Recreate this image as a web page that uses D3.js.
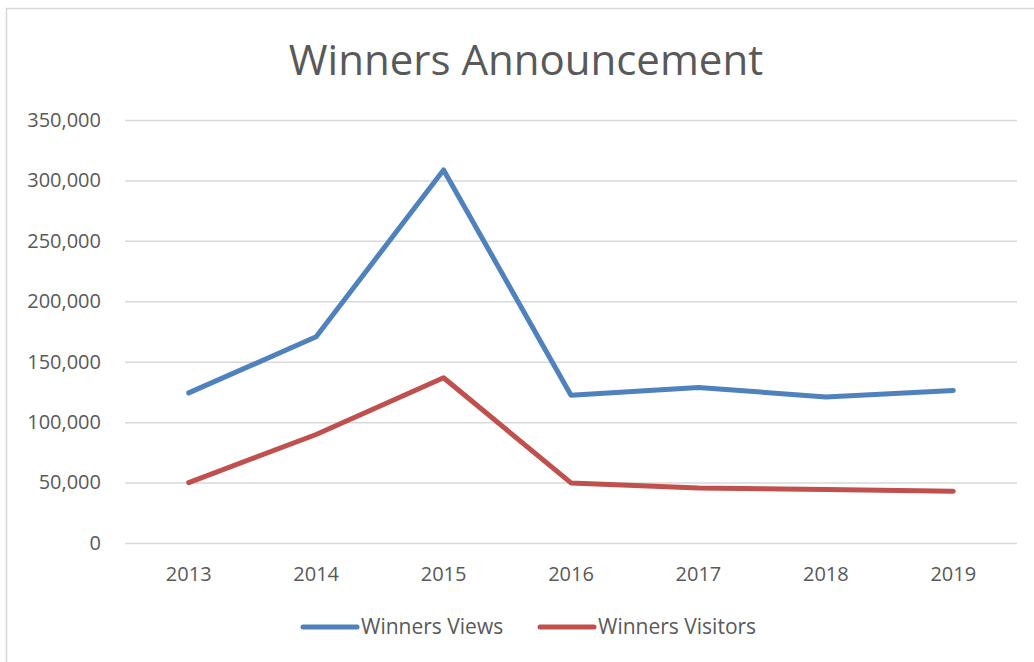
<!DOCTYPE html>
<meta charset="utf-8">
<script src="https://d3js.org/d3.v7.min.js"></script>
<style>
  body { margin: 0; background: #fff; }
  text { font-family: "Open Sans", "Noto Sans", sans-serif; fill: #595959; }
</style>
<div id="chart"></div>
<script>
  // data
  var years = ["2013", "2014", "2015", "2016", "2017", "2018", "2019"];
  var views = [124200, 170600, 308700, 122300, 128700, 120900, 126200];
  var visitors = [50000, 89800, 136700, 49700, 45500, 44200, 42800];
  var yTicks = [0, 50000, 100000, 150000, 200000, 250000, 300000, 350000];
  var seriesNames = ["Winners Views", "Winners Visitors"];
  var colors = ["#4f81bd", "#c0504d"];

  var W = 1034, H = 662;
  var margin = { top: 120, right: 17, bottom: 119, left: 125 },
    width = W - margin.left - margin.right,
    height = H - margin.top - margin.bottom;

  var svg = d3.select("#chart").append("svg")
    .attr("width", W).attr("height", H);

  // chart frame
  svg.append("rect")
    .attr("x", 6.5).attr("y", 8.5)
    .attr("width", W).attr("height", H)
    .attr("fill", "none").attr("stroke", "#d9d9d9").attr("stroke-width", 1.5);

  svg.append("text")
    .attr("x", 526).attr("y", 75)
    .attr("text-anchor", "middle")
    .style("font-size", "42px")
    .text("Winners Announcement");

  var g = svg.append("g")
    .attr("transform", "translate(" + margin.left + "," + margin.top + ")");

  var x = d3.scaleBand().domain(years).range([0, width]);
  var y = d3.scaleLinear().domain([0, 350000]).range([height, 0]);

  // gridlines
  g.append("g")
    .call(d3.axisLeft(y).tickValues(yTicks).tickSize(-width).tickFormat(""))
    .call(function(a) {
      a.select(".domain").remove();
      a.selectAll("line").attr("stroke", "#d9d9d9").attr("stroke-width", 1.5);
    });

  // y labels
  g.append("g")
    .call(d3.axisLeft(y).tickValues(yTicks).tickSize(0).tickPadding(24)
      .tickFormat(d3.format(",")))
    .call(function(a) {
      a.select(".domain").remove();
      a.selectAll("text").attr("fill", "#595959")
        .style("font-size", "20px").style("font-family", "'Open Sans', sans-serif");
    });

  // x labels
  g.append("g")
    .attr("transform", "translate(0," + height + ")")
    .call(d3.axisBottom(x).tickSize(0).tickPadding(24))
    .call(function(a) {
      a.select(".domain").remove();
      a.selectAll("text").attr("fill", "#595959")
        .style("font-size", "20px").style("font-family", "'Open Sans', sans-serif");
    });

  var line = d3.line()
    .x(function(d, i) { return x(years[i]) + x.bandwidth() / 2; })
    .y(function(d) { return y(d); });

  [views, visitors].forEach(function(s, k) {
    g.append("path")
      .datum(s)
      .attr("fill", "none")
      .attr("stroke", colors[k])
      .attr("stroke-width", 5)
      .attr("stroke-linejoin", "round")
      .attr("stroke-linecap", "round")
      .attr("d", line);
  });

  // legend
  var legendX = [303, 540];
  var legend = svg.append("g");
  seriesNames.forEach(function(n, k) {
    legend.append("line")
      .attr("x1", legendX[k]).attr("x2", legendX[k] + 54)
      .attr("y1", 627).attr("y2", 627)
      .attr("stroke", colors[k]).attr("stroke-width", 5)
      .attr("stroke-linecap", "round");
    legend.append("text")
      .attr("x", legendX[k] + 58).attr("y", 634)
      .style("font-size", "21px")
      .text(n);
  });
</script>
